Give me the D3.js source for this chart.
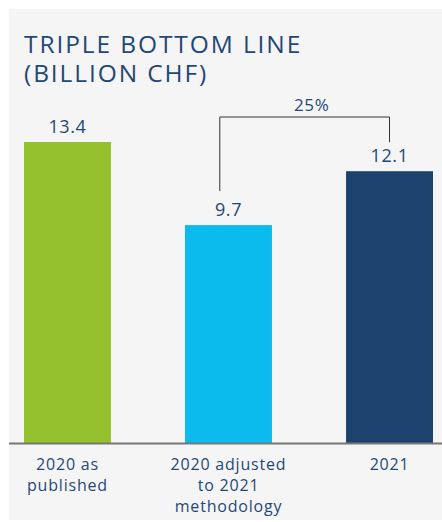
<!DOCTYPE html>
<html>
<head>
<meta charset="utf-8">
<script src="https://cdn.jsdelivr.net/npm/d3@7"></script>
<style>
  body { margin: 0; background: #fff; }
  svg { display: block; font-family: "Open Sans", sans-serif; }
</style>
</head>
<body>
<div id="chart"></div>
<script>
// data
const categories = ["2020 as published", "2020 adjusted to 2021 methodology", "2021"];
const labelLines = [["2020 as", "published"], ["2020 adjusted", "to 2021", "methodology"], ["2021"]];
const values = [13.4, 9.7, 12.1];
const valueLabels = ["13.4", "9.7", "12.1"];
const barColors = ["#96c12f", "#0bbbee", "#1c426e"];
const changeLabel = "25%";

const W = 442, H = 522;
const textColor = "#1f4877";

const svg = d3.select("#chart").append("svg")
  .attr("width", W)
  .attr("height", H);

// gray panel
svg.append("rect")
  .attr("x", 9).attr("y", 9)
  .attr("width", W - 9).attr("height", H - 11)
  .attr("fill", "#f5f5f5");

// title
const title = svg.append("text")
  .attr("fill", textColor)
  .attr("font-size", 24.5)
  .attr("letter-spacing", 1.9);
title.append("tspan").attr("x", 24).attr("y", 53).text("TRIPLE BOTTOM LINE");
title.append("tspan").attr("x", 24).attr("y", 82).text("(BILLION CHF)");

// scales
const baseY = 443;
const x = d3.scaleBand()
  .domain(categories)
  .range([24, 433])
  .paddingInner(0.46)
  .paddingOuter(0);
const y = d3.scaleLinear()
  .domain([0, 13.4])
  .range([baseY, 142]);

// bars
svg.selectAll(".bar")
  .data(values)
  .enter().append("rect")
  .attr("class", "bar")
  .attr("x", (d, i) => x(categories[i]))
  .attr("width", x.bandwidth())
  .attr("y", d => y(d))
  .attr("height", d => baseY - y(d))
  .attr("fill", (d, i) => barColors[i]);

// value labels
svg.selectAll(".val")
  .data(values)
  .enter().append("text")
  .attr("class", "val")
  .attr("x", (d, i) => x(categories[i]) + x.bandwidth() / 2)
  .attr("y", d => y(d) - 9)
  .attr("text-anchor", "middle")
  .attr("font-size", 18)
  .attr("letter-spacing", 0.6)
  .attr("fill", textColor)
  .text((d, i) => valueLabels[i]);

// baseline axis
svg.append("line")
  .attr("x1", 9).attr("x2", W)
  .attr("y1", baseY + 0.5).attr("y2", baseY + 0.5)
  .attr("stroke", "#777")
  .attr("stroke-width", 2);

// category labels
labelLines.forEach((lines, i) => {
  const cx = x(categories[i]) + x.bandwidth() / 2;
  const t = svg.append("text")
    .attr("text-anchor", "middle")
    .attr("font-size", 16)
    .attr("letter-spacing", 0.8)
    .attr("fill", textColor);
  lines.forEach((ln, j) => {
    t.append("tspan").attr("x", cx).attr("y", 470 + j * 21).text(ln);
  });
});

// change bracket between bar 2 and bar 3
const x1 = x(categories[1]) + x.bandwidth() * 0.4;
const x2 = x(categories[2]) + x.bandwidth() / 2;
const topY = 117;
svg.append("path")
  .attr("d", `M${x1},${y(values[1]) - 34}V${topY}H${x2}V${y(values[2]) - 29}`)
  .attr("fill", "none")
  .attr("stroke", "#333")
  .attr("stroke-width", 1);
svg.append("text")
  .attr("x", (x1 + x2) / 2 + 7)
  .attr("y", 111)
  .attr("text-anchor", "middle")
  .attr("font-size", 17)
  .attr("letter-spacing", 0.6)
  .attr("fill", textColor)
  .text(changeLabel);
</script>
</body>
</html>
